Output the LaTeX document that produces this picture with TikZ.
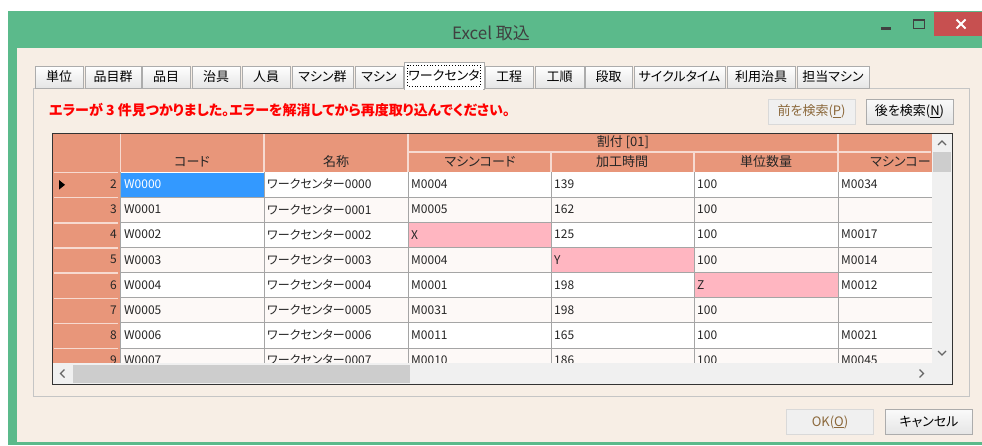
\documentclass[tikz,border=0pt]{standalone}
\usepackage{fontspec}
\setmainfont{Noto Sans CJK JP}[RawFeature=+palt]
\usetikzlibrary{positioning}
\definecolor{wingreen}{RGB}{91,186,139}
\definecolor{closered}{RGB}{199,80,80}
\definecolor{dlgbg}{RGB}{247,238,229}
\definecolor{hdrsalmon}{RGB}{232,150,122}
\definecolor{errpink}{RGB}{255,182,193}
\definecolor{selblue}{RGB}{51,153,255}
\definecolor{rowalt}{RGB}{253,249,247}
\definecolor{gridgray}{RGB}{165,165,165}
\definecolor{tabedge}{RGB}{172,172,172}
\definecolor{tabfill}{RGB}{229,229,229}
\definecolor{sbtrack}{RGB}{240,240,240}
\definecolor{sbthumb}{RGB}{205,205,205}
\definecolor{errred}{RGB}{255,0,0}
\definecolor{distext}{RGB}{140,105,60}
\newcommand\pxfont[1]{\fontsize{#1pt}{#1pt}\selectfont}

\begin{document}
\begin{tikzpicture}[x=1pt,y=-1pt,
  tabbox/.style={draw=tabedge,line width=1pt,top color=white,bottom color=tabfill,minimum height=22pt,inner sep=0pt,font={\pxfont{13}}},
  btn/.style={draw=tabedge,line width=1pt,top color=white!96!gray,bottom color=tabfill,minimum width=87pt,minimum height=25pt,inner sep=0pt,font={\pxfont{13}}},
  disbtn/.style={btn,draw=black!15,top color=black!6,bottom color=black!6,text=distext},
  cell/.style={anchor=west,inner sep=0pt,font={\pxfont{12}},text=black!85},
  hdr/.style={inner sep=0pt,font={\pxfont{13}},text=black!85},
  gridline/.style={gridgray,line width=1pt},
  hdrline/.style={white!65!hdrsalmon,line width=1.5pt},
  chevron/.style={black!60,line width=1.3pt}]
\useasboundingbox (0,0) rectangle (982,445);
\fill[white] (0,0) rectangle (982,445);

% Window frame and title bar
\fill[wingreen] (8,11) rectangle (982,445);
\fill[dlgbg] (17,48) rectangle (982,442);
\node[font={\pxfont{17}},text=black!75] (title) at (491,33) {Excel 取込};
\draw[black!75,line width=2.5pt] (881,28.5) -- (891,28.5);
\draw[black!75,line width=1.5pt] (913.5,20) rectangle (924.5,28.5);
\fill[closered] (934,12) rectangle (982,36);
\draw[white,line width=1.8pt] (956.5,19.5) -- (965.5,28.5) (956.5,28.5) -- (965.5,19.5);

% Tab panel
\draw[tabedge!70,line width=1pt] (33.5,88.5) rectangle (969.5,396);

% Tabs
\foreach \lbl/\xa/\xb in {単位/35/83, 品目群/85/141, 品目/142/190, 治具/192/240, 人員/242/290, マシン群/292/353, マシン/355/403, 工程/485/533, 工順/535/584, 段取/585/632, サイクルタイム/634/725, 利用治具/727/795, 担当マシン/797/869}
  \node[tabbox,minimum width={(\xb-\xa)*1pt}] (tab\xa) at ({(\xa+\xb)/2},77) {\lbl};

% Selected tab
\node[tabbox,top color=white,bottom color=white,minimum width=80pt,minimum height=27pt] (tabsel) at (444,75.5) {ワークセンタ};
\draw[white,line width=1.5pt] (405,89) -- (483,89);
\draw[dotted,line width=0.8pt] (407.5,65) rectangle (480.5,86);

% Error message
\node[anchor=west,inner sep=0pt,text=errred,font={\pxfont{14}\bfseries}] (errmsg) at (49,110) {エラーが 3 件見つかりました。エラーを解消してから再度取り込んでください。};

% Search buttons
\node[disbtn] (prev) at (811.5,111.5) {前を検索(\underline{P})};
\node[btn,right=10pt of prev] (next) {後を検索(\underline{N})};

% Grid
\begin{scope}
\clip (53,133) rectangle (932,363);
\fill[hdrsalmon] (53,133) rectangle (932,172);
\fill[hdrsalmon] (53,172) rectangle (120,363);
% row backgrounds
\foreach \i in {0,...,7} {
  \pgfmathsetmacro\ytop{172+25.15*\i}
  \pgfmathsetmacro\ybot{\ytop+25.15}
  \ifodd\i\def\rowcol{rowalt}\else\def\rowcol{white}\fi
  \fill[\rowcol] (121,\ytop) rectangle (932,\ybot);
}
% selected and error cells
\fill[selblue] (121,172.5) rectangle (264,197);
\fill[errpink] (408,222.3) rectangle (551,247.45);
\fill[errpink] (551,247.45) rectangle (694,272.6);
\fill[errpink] (694,272.6) rectangle (838,297.75);
% column lines
\foreach \x in {264,408,551,694,838}
  \draw[gridline] (\x,172) -- (\x,363);
\draw[gridline] (120.5,172) -- (120.5,363);
% header lines
\foreach \x in {120.5,264,408,838}
  \draw[hdrline] (\x,134) -- (\x,172);
\foreach \x in {551,694}
  \draw[hdrline] (\x,152) -- (\x,172);
\draw[hdrline] (409,152) -- (931,152);
\node[hdr] (assign) at (623,142) {割付 [01]};
\node[hdr] (hcode) at (192,162) {コード};
\node[hdr] (hname) at (336,162) {名称};
\node[hdr] (hmc) at (480,162) {マシンコード};
\node[hdr] (htime) at (622,162) {加工時間};
\node[hdr] (hqty) at (766,162) {単位数量};
\node[hdr,anchor=east] (hmc2) at (931,162) {マシンコー};
% rows
\foreach \n/\cd/\nm/\ma/\tm/\qt/\mb [count=\i from 0] in {
  2/W0000/0000/M0004/139/100/M0034,
  3/W0001/0001/M0005/162/100/{},
  4/W0002/0002/X/125/100/M0017,
  5/W0003/0003/M0004/Y/100/M0014,
  6/W0004/0004/M0001/198/Z/M0012,
  7/W0005/0005/M0031/198/100/{},
  8/W0006/0006/M0011/165/100/M0021,
  9/W0007/0007/M0010/186/100/M0045} {
  \pgfmathsetmacro\ytop{172+25.15*\i}
  \pgfmathsetmacro\ymid{\ytop+12.3}
  \pgfmathsetmacro\ybot{\ytop+25.15}
  \ifnum\n=2\def\cdcol{white}\else\def\cdcol{black!85}\fi
  \draw[hdrline] (54,\ytop+0.5) -- (118,\ytop+0.5);
  \draw[gridline] (120,\ybot) -- (932,\ybot);
  \node[cell,anchor=east] (rn\n) at (117,\ymid) {\n};
  \node[cell,text=\cdcol] (cd\n) at (124,\ymid) {\cd};
  \node[cell] (nm\n) at (267,\ymid) {ワークセンター\nm};
  \node[cell] (ma\n) at (411,\ymid) {\ma};
  \node[cell] (tm\n) at (554,\ymid) {\tm};
  \node[cell] (qt\n) at (697,\ymid) {\qt};
  \node[cell] (mb\n) at (841,\ymid) {\mb};
}
\fill[black] (59,180) -- (65,184.8) -- (59,189.6) -- cycle;
\end{scope}

% Scroll bars
\fill[sbtrack] (932,133.5) rectangle (952,384);
\fill[sbtrack] (53,363) rectangle (932,384);
\fill[sbthumb] (933,152) rectangle (951,172);
\fill[sbthumb] (73,365) rectangle (410,383);
\draw[chevron] (938,145) -- (942,141) -- (946,145);
\draw[chevron] (938,351) -- (942,355) -- (946,351);
\draw[chevron] (64.5,369.5) -- (60.5,373.5) -- (64.5,377.5);
\draw[chevron] (919.5,369.5) -- (923.5,373.5) -- (919.5,377.5);
\draw[black!80,line width=1pt] (52.5,133.5) rectangle (952.5,384.5);

% OK / Cancel
\node[disbtn] (ok) at (830,422) {OK(\underline{O})};
\node[btn,right=11pt of ok] (cancel) {キャンセル};
\end{tikzpicture}
\end{document}
